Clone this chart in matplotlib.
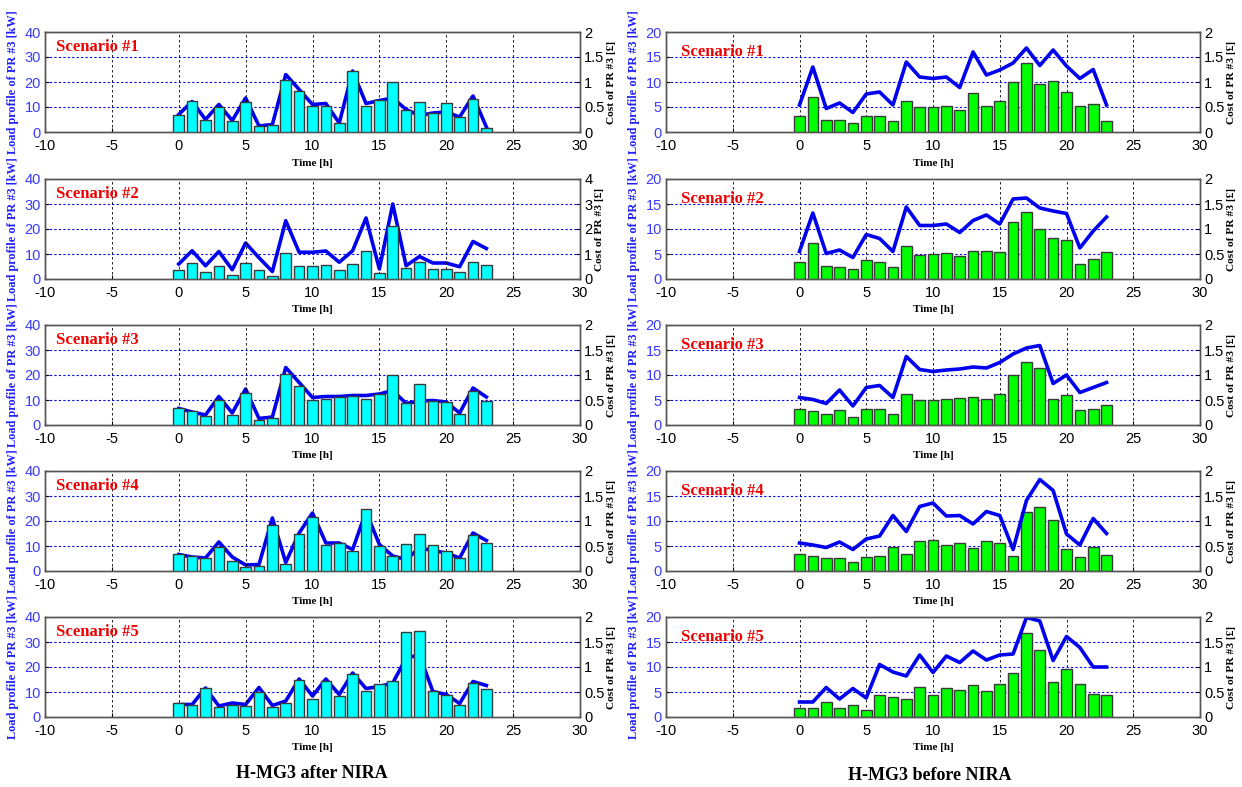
import numpy as np
import matplotlib.pyplot as plt

plt.rcParams['axes.unicode_minus'] = False

# Часы суток
hours = np.arange(24)

# H-MG3 after NIRA: нагрузка [kW] и стоимость [£]
after_load_1 = [6.8, 12.3, 5.0, 10.1, 4.3, 12.0, 2.3, 2.8, 21.0, 16.4, 10.3, 10.6, 3.6, 24.3, 10.6, 12.8, 20.0, 8.9, 12.0, 7.7, 11.7, 6.1, 13.4, 1.7]
after_cost_1 = [0.35, 0.61, 0.25, 0.55, 0.23, 0.68, 0.12, 0.15, 1.15, 0.85, 0.55, 0.57, 0.18, 1.22, 0.57, 0.63, 0.68, 0.45, 0.33, 0.38, 0.40, 0.30, 0.72, 0.10]
after_load_2 = [3.7, 6.3, 2.7, 5.2, 1.6, 6.3, 3.7, 1.2, 10.4, 5.2, 5.2, 5.6, 3.7, 6.0, 11.2, 2.4, 21.3, 4.4, 6.7, 4.0, 4.0, 2.7, 6.9, 5.6]
after_cost_2 = [0.60, 1.13, 0.53, 1.10, 0.37, 1.44, 0.85, 0.30, 2.33, 1.07, 1.07, 1.12, 0.67, 1.13, 2.44, 0.40, 3.00, 0.53, 0.90, 0.64, 0.64, 0.49, 1.50, 1.22]
after_load_3 = [6.8, 5.6, 3.5, 10.1, 4.2, 13.0, 2.2, 2.9, 20.6, 15.6, 10.1, 10.5, 11.1, 11.5, 10.5, 12.6, 19.9, 8.8, 16.4, 9.8, 9.4, 4.6, 13.8, 9.8]
after_cost_3 = [0.33, 0.26, 0.20, 0.57, 0.24, 0.72, 0.13, 0.16, 1.15, 0.85, 0.55, 0.57, 0.57, 0.59, 0.59, 0.62, 0.69, 0.43, 0.48, 0.49, 0.46, 0.24, 0.74, 0.56]
after_load_4 = [6.9, 6.2, 5.3, 9.5, 4.1, 1.6, 2.0, 18.3, 2.9, 14.7, 21.5, 10.5, 11.1, 8.1, 24.9, 10.0, 6.2, 10.9, 14.7, 10.5, 7.9, 5.3, 14.3, 11.3]
after_cost_4 = [0.33, 0.28, 0.26, 0.58, 0.28, 0.12, 0.13, 1.06, 0.17, 0.76, 1.16, 0.56, 0.56, 0.43, 1.19, 0.53, 0.30, 0.23, 0.46, 0.41, 0.36, 0.26, 0.76, 0.61]
after_load_5 = [5.5, 4.8, 11.5, 4.1, 4.8, 4.4, 9.9, 4.1, 5.7, 14.7, 7.3, 14.3, 8.6, 17.3, 10.4, 13.1, 14.3, 34.2, 34.6, 10.4, 9.0, 4.8, 13.6, 11.1]
after_cost_5 = [0.25, 0.25, 0.58, 0.22, 0.28, 0.25, 0.59, 0.23, 0.32, 0.76, 0.42, 0.76, 0.45, 0.88, 0.57, 0.61, 0.68, 1.18, 1.24, 0.51, 0.45, 0.27, 0.71, 0.63]

# H-MG3 before NIRA
before_load_1 = [3.3, 7.0, 2.4, 2.4, 1.8, 3.2, 3.3, 2.2, 6.3, 5.1, 5.1, 5.3, 4.5, 7.8, 5.3, 6.3, 10.0, 13.9, 9.6, 10.3, 8.1, 5.3, 5.7, 2.2]
before_cost_1 = [0.54, 1.30, 0.47, 0.58, 0.39, 0.76, 0.80, 0.54, 1.40, 1.10, 1.07, 1.10, 0.89, 1.60, 1.14, 1.24, 1.38, 1.68, 1.33, 1.64, 1.32, 1.07, 1.25, 0.54]
before_load_2 = [3.5, 7.3, 2.7, 2.5, 2.1, 3.8, 3.5, 2.5, 6.6, 4.9, 5.0, 5.2, 4.7, 5.7, 5.7, 5.4, 11.4, 13.4, 10.1, 8.2, 7.9, 3.1, 4.1, 5.4]
before_cost_2 = [0.55, 1.32, 0.51, 0.58, 0.43, 0.89, 0.81, 0.55, 1.44, 1.07, 1.07, 1.10, 0.93, 1.17, 1.28, 1.10, 1.60, 1.62, 1.42, 1.36, 1.31, 0.62, 0.96, 1.24]
before_load_3 = [3.3, 2.8, 2.2, 3.0, 1.7, 3.3, 3.3, 2.2, 6.3, 5.0, 5.0, 5.2, 5.5, 5.7, 5.2, 6.2, 10.0, 12.6, 11.4, 5.2, 6.1, 3.1, 3.3, 4.0]
before_cost_3 = [0.55, 0.51, 0.43, 0.70, 0.38, 0.75, 0.79, 0.55, 1.37, 1.11, 1.07, 1.10, 1.12, 1.16, 1.14, 1.25, 1.42, 1.54, 1.59, 0.83, 1.00, 0.65, 0.75, 0.85]
before_load_4 = [3.4, 3.1, 2.6, 2.6, 1.9, 2.8, 3.0, 4.9, 3.5, 6.0, 6.2, 5.2, 5.6, 4.6, 6.0, 5.6, 3.1, 11.9, 12.9, 10.2, 4.4, 2.8, 4.9, 3.3]
before_cost_4 = [0.56, 0.52, 0.47, 0.58, 0.43, 0.64, 0.70, 1.11, 0.79, 1.29, 1.36, 1.10, 1.11, 0.94, 1.19, 1.11, 0.43, 1.41, 1.83, 1.61, 0.74, 0.52, 1.05, 0.75]
before_load_5 = [1.8, 1.8, 3.0, 1.8, 2.4, 1.5, 4.5, 4.1, 3.6, 6.0, 4.4, 5.8, 5.4, 6.4, 5.2, 6.6, 8.9, 16.8, 13.4, 7.0, 9.6, 6.7, 4.7, 4.4]
before_cost_5 = [0.30, 0.30, 0.59, 0.36, 0.57, 0.38, 1.05, 0.90, 0.82, 1.24, 0.89, 1.22, 1.09, 1.32, 1.14, 1.24, 1.26, 1.99, 1.92, 1.13, 1.61, 1.39, 1.00, 1.00]

after_load = [after_load_1, after_load_2, after_load_3, after_load_4, after_load_5]
after_cost = [after_cost_1, after_cost_2, after_cost_3, after_cost_4, after_cost_5]
before_load = [before_load_1, before_load_2, before_load_3, before_load_4, before_load_5]
before_cost = [before_cost_1, before_cost_2, before_cost_3, before_cost_4, before_cost_5]

# Пределы правой оси (стоимость) для столбца "after"
after_cost_max = [2, 4, 2, 2, 2]

sans = 'Liberation Sans'
serif = 'Liberation Serif'
tick_blue = '#3a3aff'

fig = plt.figure(figsize=(12.42, 7.87), dpi=100)

W, H = 1242, 787
row_top = [32, 179, 325, 471, 617]
row_h = 100
columns = [
    dict(x0=45, w=535, load=after_load, cost=after_cost, ymax=40, color='#00ffff', line_below=True),
    dict(x0=666, w=534, load=before_load, cost=before_cost, ymax=20, color='#00ff00', line_below=False),
]

for ci, col in enumerate(columns):
    for r in range(5):
        left = col['x0'] / W
        bottom = 1 - (row_top[r] + row_h) / H
        ax = fig.add_axes([left, bottom, col['w'] / W, row_h / H])
        ax2 = ax.twinx()

        # столбцы нагрузки
        ax.bar(hours, col['load'][r], width=0.8, color=col['color'],
               edgecolor='#3a3a3a', linewidth=1.0, zorder=3)
        ax.set_xlim(-10, 30)
        ax.set_ylim(0, col['ymax'])
        ax.set_xticks(np.arange(-10, 31, 5))
        ax.set_yticks(np.linspace(0, col['ymax'], 5))

        # линия стоимости
        ax2.plot(hours, col['cost'][r], color='#0000ee', linewidth=2.6, zorder=2)
        cmax = after_cost_max[r] if ci == 0 else 2
        ax2.set_ylim(0, cmax)
        ax2.set_xlim(-10, 30)
        if cmax == 4:
            ax2.set_yticks([0, 1, 2, 3, 4])
        else:
            ax2.set_yticks([0, 0.5, 1, 1.5, 2])
            ax2.set_yticklabels(['0', '0.5', '1', '1.5', '2'])

        if col['line_below']:
            ax.set_zorder(ax2.get_zorder() + 1)
            ax.patch.set_visible(False)

        # сетка
        for xv in range(-5, 30, 5):
            ax.axvline(xv, color='black', linestyle=(0, (3, 3)), linewidth=0.6, zorder=1)
        for yv in np.linspace(0, col['ymax'], 5)[1:-1]:
            ax.axhline(yv, color='#0000ff', linestyle=(0, (2, 2)), linewidth=0.8, zorder=1)

        ax.tick_params(axis='x', direction='in', length=3, labelsize=10.5, pad=5)
        ax.tick_params(axis='y', direction='in', length=3, labelsize=10.5, labelcolor=tick_blue, pad=3)
        ax2.tick_params(axis='y', direction='in', length=3, labelsize=10.5, pad=3)
        for lab in ax.get_xticklabels() + ax.get_yticklabels() + ax2.get_yticklabels():
            lab.set_family(sans)
        for a in (ax, ax2):
            for s in a.spines.values():
                s.set_linewidth(1.0)
                s.set_color('#555555')

        ax.set_xlabel('Time [h]', family=serif, fontweight='bold', fontsize=8, labelpad=4)
        ax.set_ylabel('Load profile of PR #3 [kW]', family=serif, fontweight='bold',
                      fontsize=8.8, color='#2020ff', labelpad=4)
        ax2.set_ylabel('Cost of PR #3 [£]', family=serif, fontweight='bold',
                       fontsize=8.2, color='black', labelpad=2)

        tx = 0.02 if ci == 0 else 0.028
        ty = 0.85 if ci == 0 else 0.8
        ax.text(tx, ty, 'Scenario #%d' % (r + 1), transform=ax.transAxes,
                family=serif, fontweight='bold', fontsize=12, color='#ee0000',
                va='center', ha='left', zorder=5)

fig.text(312 / W, 1 - 773 / H, 'H-MG3 after NIRA', family=serif, fontweight='bold',
         fontsize=13, ha='center', va='center')
fig.text(930 / W, 1 - 775 / H, 'H-MG3 before NIRA', family=serif, fontweight='bold',
         fontsize=13, ha='center', va='center')

fig.savefig('out.png', dpi=100)
